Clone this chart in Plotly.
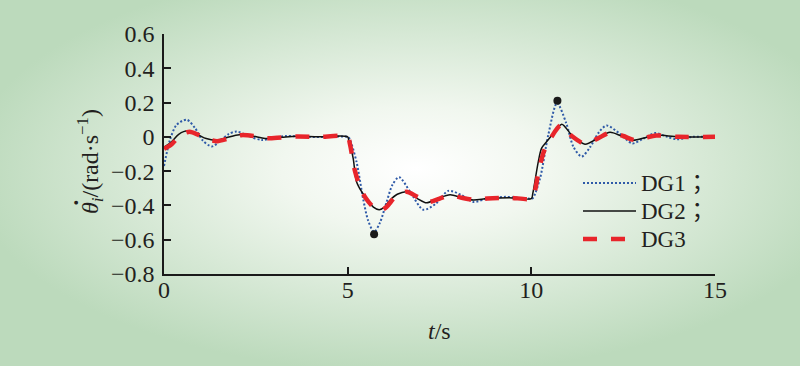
import base64
import plotly.graph_objects as go

# ---- data ----
dg1_t = [0, 0.16, 0.34, 0.62, 0.85, 1.05, 1.3, 1.55, 1.75, 1.98, 2.3, 2.66, 3.0, 3.34, 3.8, 4.5,
         5.0, 5.05, 5.24, 5.42, 5.56, 5.72, 5.88, 6.06, 6.22, 6.4, 6.7, 7.06, 7.4, 7.74, 8.1, 8.42,
         8.8, 9.3, 10.0, 10.05, 10.24, 10.46, 10.7, 10.95, 11.15, 11.37, 11.6, 11.85, 12.05, 12.4,
         12.75, 13.05, 13.37, 13.7, 13.96, 14.4, 15]
dg1_v = [-0.17, -0.02, 0.07, 0.10, 0.05, -0.02, -0.056, -0.02, 0.015, 0.031, 0.005, -0.018, -0.005,
         0.005, 0.0, 0.0, 0.0, -0.01, -0.145, -0.36, -0.49, -0.555, -0.5, -0.38, -0.28, -0.235, -0.32,
         -0.425, -0.39, -0.315, -0.34, -0.38, -0.36, -0.35, -0.36, -0.355, -0.24, 0.01, 0.197, 0.08,
         -0.06, -0.115, -0.06, 0.03, 0.066, 0.02, -0.038, -0.01, 0.022, 0.0, -0.014, 0.0, 0.0]

dg2_t = [0, 0.2, 0.4, 0.65, 0.9, 1.15, 1.4, 1.7, 2.05, 2.4, 2.75, 3.2, 3.6, 4.2, 5.0, 5.03, 5.15,
         5.24, 5.38, 5.55, 5.7, 5.86, 6.0, 6.15, 6.35, 6.61, 6.9, 7.15, 7.45, 7.79, 8.1, 8.42, 8.8,
         9.4, 10.0, 10.04, 10.19, 10.28, 10.42, 10.6, 10.83, 11.1, 11.46, 11.8, 12.14, 12.45, 12.77,
         13.1, 13.4, 14.0, 15]
dg2_v = [-0.06, -0.03, 0.015, 0.035, 0.015, -0.01, -0.02, -0.005, 0.012, 0.005, -0.01, -0.003, 0.003,
         0.0, 0.0, -0.02, -0.125, -0.26, -0.32, -0.37, -0.41, -0.425, -0.41, -0.37, -0.335, -0.32,
         -0.36, -0.385, -0.36, -0.338, -0.355, -0.368, -0.36, -0.355, -0.36, -0.33, -0.144, -0.066,
         -0.027, 0.02, 0.074, 0.01, -0.043, -0.01, 0.027, 0.005, -0.02, -0.005, 0.01, 0.0, 0.0]

dg3_t = [0, 0.2, 0.45, 0.7, 0.95, 1.2, 1.45, 1.75, 2.1, 2.45, 2.8, 3.2, 3.6, 4.2, 5.0, 5.06, 5.2,
         5.35, 5.5, 5.7, 5.88, 6.05, 6.3, 6.6, 6.9, 7.2, 7.5, 7.8, 8.1, 8.45, 8.8, 9.4, 10.0, 10.08,
         10.2, 10.35, 10.55, 10.8, 11.1, 11.45, 11.8, 12.15, 12.5, 12.8, 13.1, 13.4, 14.0, 15]
dg3_v = [-0.07, -0.045, 0.01, 0.03, 0.01, -0.015, -0.025, -0.01, 0.01, 0.005, -0.008, -0.003, 0.002,
         0.0, 0.0, -0.04, -0.2, -0.3, -0.36, -0.41, -0.43, -0.41, -0.35, -0.32, -0.35, -0.38, -0.36,
         -0.34, -0.355, -0.367, -0.36, -0.355, -0.36, -0.33, -0.2, -0.08, 0.0, 0.066, 0.005, -0.04,
         -0.01, 0.025, 0.005, -0.018, -0.005, 0.008, 0.0, 0.0]

marker_t = [5.72, 10.71]
marker_v = [-0.568, 0.21]

series_names = ["DG1；", "DG2；", "DG3"]
x_ticks = [0, 5, 10, 15]
y_ticks = [0.6, 0.4, 0.2, 0, -0.2, -0.4, -0.6, -0.8]

# ---- figure ----
W, H = 800, 366
L, R, T, B = 164, 85, 34, 92
pw, ph = W - L - R, H - T - B

FONT = "Liberation Serif, Times New Roman, Noto Sans CJK JP, serif"
TXT = "#231f20"
BG_EDGE = "#bcdabc"

styles = [
    dict(color="#2f5aa8", width=2, dash="2px,2px"),
    dict(color="#111111", width=1.5, dash="solid"),
    dict(color="#e8252b", width=4.5, dash="14px,14px"),
]
series = [(dg1_t, dg1_v), (dg2_t, dg2_v), (dg3_t, dg3_v)]

fig = go.Figure()
for (t, v), name, st in zip(series, series_names, styles):
    fig.add_trace(go.Scatter(x=t, y=v, mode="lines", name=name, showlegend=False,
                             line=dict(shape="spline", smoothing=0.8, **st)))
fig.add_trace(go.Scatter(x=marker_t, y=marker_v, mode="markers", showlegend=False,
                         marker=dict(color="#1a1a1a", size=8)))

svg = ('<svg xmlns="http://www.w3.org/2000/svg" width="800" height="366" viewBox="0 0 800 366" '
       'preserveAspectRatio="none"><defs><radialGradient id="g" cx="0.52" cy="0.46" r="0.56">'
       '<stop offset="0" stop-color="#ffffff"/><stop offset="0.3" stop-color="#f1f7ef"/>'
       '<stop offset="1" stop-color="' + BG_EDGE + '"/></radialGradient></defs>'
       '<rect width="800" height="366" fill="url(#g)"/></svg>')
src = "data:image/svg+xml;base64," + base64.b64encode(svg.encode()).decode()

fig.add_layout_image(dict(source=src, xref="paper", yref="paper",
                          x=-L / pw, y=(H - B) / ph, sizex=W / pw, sizey=H / ph,
                          xanchor="left", yanchor="top", sizing="stretch", layer="below"))

def px_x(p):
    return (p - L) / pw

def px_y(p):
    return (H - B - p) / ph

# legend drawn as line samples + labels
leg_rows = [183, 211, 239]
annotations = []
for row, name, st in zip(leg_rows, series_names, styles):
    fig.add_shape(type="line", xref="paper", yref="paper",
                  x0=px_x(583), x1=px_x(636), y0=px_y(row), y1=px_y(row),
                  line=dict(color=st["color"], width=st["width"], dash=st["dash"]))
    annotations.append(dict(text=name, xref="paper", yref="paper", x=px_x(639), y=px_y(row),
                            xanchor="left", yanchor="middle", showarrow=False,
                            font=dict(family=FONT, size=23, color=TXT)))

annotations += [
    dict(text="<i>t</i>/s", xref="paper", yref="paper", x=px_x(439), y=px_y(331),
         xanchor="center", yanchor="middle", showarrow=False,
         font=dict(family=FONT, size=24, color=TXT)),
    dict(text="<i>θ<sub>i</sub></i>/(rad·s<sup>−1</sup>)",
         xref="paper", yref="paper", x=px_x(90), y=px_y(162), textangle=-90,
         xanchor="center", yanchor="middle", showarrow=False,
         font=dict(family=FONT, size=24, color=TXT)),
    # the time-derivative dot over θ
    dict(text="·", xref="paper", yref="paper", x=px_x(76), y=px_y(203), textangle=-90,
         xanchor="center", yanchor="middle", showarrow=False,
         font=dict(family=FONT, size=32, color=TXT)),
]

axis_common = dict(showline=True, linecolor="#1a1a1a", linewidth=1.5, ticks="inside",
                   ticklen=7, tickwidth=1.5, tickcolor="#1a1a1a", showgrid=False, zeroline=False,
                   tickfont=dict(family=FONT, size=24, color=TXT))

fig.update_layout(
    width=W, height=H,
    margin=dict(l=L, r=R, t=T, b=B, autoexpand=False),
    paper_bgcolor=BG_EDGE, plot_bgcolor="rgba(0,0,0,0)",
    xaxis=dict(range=[0, 15], tickvals=x_ticks, ticklabelstandoff=-7, **axis_common),
    yaxis=dict(range=[-0.8, 0.6], tickvals=y_ticks,
               ticktext=[("−" if v < 0 else "") + (f"{abs(v):.1f}" if v != 0 else "0") for v in y_ticks],
               ticklabelstandoff=3, **axis_common),
    showlegend=False,
    annotations=annotations,
)

fig.write_html("out.html", config={"displayModeBar": False},
               post_script="document.body.style.margin='0';document.body.style.background='" + BG_EDGE + "';")
